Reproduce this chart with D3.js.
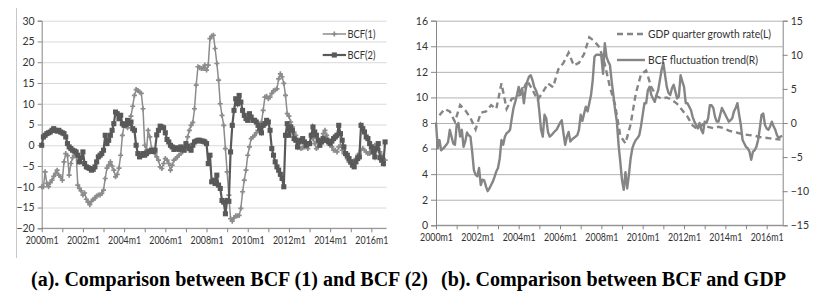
<!DOCTYPE html>
<html>
<head>
<meta charset="utf-8">
<script src="https://cdn.jsdelivr.net/npm/d3@7"></script>
<style>
    body { margin: 0; background: #fff; }
    svg text { font-family: Lato, "Noto Sans", sans-serif; fill: #333; }
    .caption { font-family: "Liberation Serif", "Times New Roman", serif; font-weight: bold; fill: #000; }
</style>
</head>
<body>
<svg id="chart" width="821" height="298"></svg>
<script>
// ---- data (monthly, 2000m1 ...) ----
const xTickLabels = ["2000m1", "2002m1", "2004m1", "2006m1", "2008m1", "2010m1", "2012m1", "2014m1", "2016m1"]

const bcf1 = [
    -10.0, -10.0, -6.4, -9.2, -10.0, -9.0, -8.4, -7.5, -6.8, -6.0,
    -7.2, -7.6, -8.4, -4.0, -2.0, -2.5, -7.2, -4.4, -3.0, -2.4,
    -1.5, -9.6, -10.4, -11.0, -12.0, -11.5, -13.0, -13.7, -14.3, -13.5,
    -13.0, -12.8, -12.2, -12.0, -12.0, -11.6, -10.8, -8.0, -5.5, -4.8,
    -4.0, -5.0, -6.0, -7.6, -7.0, -5.5, -2.4, 2.4, 4.8, 5.0,
    4.2, 5.5, 7.0, 9.4, 12.0, 13.4, 13.2, 12.8, 12.5, 8.8,
    0.0, -1.2, 3.6, 2.0, -0.8, -1.5, -2.0, -2.8, -3.6, -5.2,
    -5.6, -4.4, -3.2, -3.6, -4.4, -6.0, -4.8, -3.6, -3.2, -2.8,
    -2.4, -2.0, -1.4, -0.8, 0.0, 2.0, 3.6, 4.8, 5.5, 8.8,
    14.5, 18.9, 18.7, 18.5, 18.5, 19.3, 18.1, 19.3, 25.7, 26.3,
    26.5, 23.3, 19.7, 15.7, 10.0, 7.2, 4.8, -0.8, -6.4, -12.0,
    -17.7, -18.3, -17.5, -17.0, -17.0, -16.9, -15.2, -11.2, -8.4, -6.0,
    -2.4, -0.4, 1.6, 2.0, 2.4, 3.0, 3.6, 4.6, 5.6, 8.4,
    11.6, 11.8, 11.2, 11.6, 12.5, 13.1, 13.3, 13.6, 16.0, 17.2,
    16.5, 14.9, 12.0, 7.6, 7.0, 5.6, 4.4, 3.2, 2.4, 1.2,
    -0.4, -0.8, -0.6, -0.4, 0.0, -0.8, 0.4, 2.4, 1.6, 0.4,
    -0.8, -0.4, 0.8, 1.6, 2.8, 3.6, 2.4, 1.2, 0.0, -0.4,
    -1.2, -1.2, -1.6, -0.4, 0.0, -1.2, -2.0, -2.4, -3.2, -4.0,
    -4.4, -4.0, -3.6, -3.6, -2.4, -2.0, -1.2, -0.8, -1.2, -1.6,
    -2.0, -2.0, -1.2, -0.8, 0.0, 0.0, -0.8, -1.6, -2.4, -3.2,
    -3.6
]

const bcf2 = [
    0.0, 2.0, 2.4, 2.8, 3.0, 3.2, 3.6, 4.0, 3.6, 3.4,
    3.6, 3.2, 3.0, 2.8, 2.0, 0.4, -0.4, -0.8, -1.2, -1.4,
    -1.6, -2.4, -4.0, -3.0, -1.6, -4.4, -5.2, -5.4, -5.6, -6.0,
    -5.8, -5.2, -4.0, -2.8, -2.4, -2.0, -1.2, 2.4, 0.4, 1.2,
    2.4, 3.6, 5.2, 8.0, 7.6, 6.4, 7.2, 5.2, 4.8, 5.0,
    6.0, 5.2, 5.6, 4.0, 3.6, 0.0, -2.0, -2.8, -2.4, -2.0,
    -2.4, -2.0, -1.6, -1.4, -1.2, -1.5, -1.2, 2.5, 3.6, 4.6,
    4.4, 4.2, 3.0, 1.4, 0.8, 0.0, -0.4, -1.0, -0.6, -0.8,
    -1.0, -0.4, -0.8, -1.2, 0.4, -0.2, -0.8, -1.2, 0.0, 0.8,
    1.0, 1.2, 1.2, 1.0, 1.0, 0.8, 0.4, -4.4, -2.4, -8.8,
    -8.4, -9.2, -7.2, -9.6, -10.4, -13.3, -13.7, -16.5, -13.3, -13.5,
    -1.6, 4.8, 8.4, 11.2, 10.0, 12.0, 10.4, 8.4, 7.2, 6.4,
    6.0, 7.6, 6.8, 6.0, 6.0, 5.6, 4.8, 4.0, 3.0, 4.8,
    5.2, 6.0, 5.6, 3.6, -0.8, -2.4, -4.0, -5.2, -6.0, -7.0,
    -8.0, -10.0, 2.4, 5.2, 2.4, 4.4, 3.6, 1.6, 1.2, -0.4,
    0.8, 1.2, 1.6, 0.8, 0.0, 0.4, 0.4, 2.4, 4.4, 3.2,
    2.4, 1.2, 0.0, 0.8, 1.6, 1.2, 1.2, 0.8, 0.4, 1.0,
    1.6, 2.0, 2.4, 4.8, 2.8, 1.2, -0.4, -2.0, -2.4, -3.2,
    -4.0, -4.8, -5.2, -4.0, -3.2, -2.8, 4.8, 4.0, 3.2, 2.0,
    1.6, 0.4, -0.4, -1.6, -2.8, -0.8, 0.4, -3.0, -3.6, -4.4,
    0.8
]

// GDP quarter growth rate, one value per quarter (plotted at the 3rd month of each quarter)
const gdpQuarter = [
    8.6, 9.1, 8.9, 8.1, 9.4, 9.0, 8.4, 7.5, 8.8, 8.9,
    9.4, 9.1, 11.1, 9.1, 9.9, 10.0, 10.4, 11.3, 10.6, 9.8,
    10.4, 11.1, 10.8, 12.2, 12.7, 13.5, 12.5, 12.7, 13.4, 14.7,
    14.4, 13.9, 12.6, 10.8, 9.4, 7.0, 6.4, 7.9, 10.3, 11.8,
    12.1, 10.8, 10.1, 9.9, 10.0, 9.8, 9.5, 9.0, 8.5, 7.8,
    7.5, 7.9, 7.7, 7.6, 7.7, 7.6, 7.4, 7.3, 7.2, 7.1,
    7.05, 7.0, 6.9, 6.85, 6.8, 6.75, 6.7
]

// BCF fluctuation trend, monthly
const bcfTrend = [
    0.1, -3.7, -2.5, -4.0, -3.8, -3.5, -3.2, -2.8, -1.0, -2.0,
    -3.0, -3.2, -0.3, 0.0, -2.0, -1.0, -3.5, -2.7, -1.4, -1.8,
    -2.0, -4.2, -6.9, -7.6, -7.8, -6.6, -9.1, -8.3, -8.4, -9.3,
    -10.0, -9.6, -9.1, -8.6, -7.9, -7.1, -6.6, -5.2, -2.5, -3.2,
    -2.0, -1.5, -1.3, -1.0, 0.7, 2.2, 3.1, 4.1, 5.3, 4.1,
    5.1, 2.9, 4.8, 6.1, 6.8, 7.0, 6.3, 5.3, 4.8, 4.1,
    1.7, -1.0, -2.0, 1.2, 0.7, -1.3, -2.0, -1.8, -1.5, -1.2,
    -1.0, -0.5, 0.0, 0.4, -1.5, -3.2, -2.0, -1.3, -2.7, -2.4,
    -2.2, -2.0, -1.8, -1.0, 1.2, 0.3, 1.4, 2.4, 1.7, 2.9,
    4.1, 6.3, 9.7, 10.0, 10.0, 10.0, 9.8, 7.2, 11.7, 9.7,
    9.0, 8.5, 6.1, 4.1, 1.9, 0.2, -3.2, -5.7, -8.4, -9.8,
    -7.2, -9.6, -7.6, -5.2, -3.7, -3.0, -2.5, -2.2, -1.8, -0.5,
    1.2, 2.9, 2.9, 4.8, 5.3, 4.1, 3.6, 3.1, 4.1, 4.8,
    6.3, 7.8, 8.8, 7.0, 5.3, 4.4, 4.1, 5.1, 5.6, 4.6,
    3.6, 3.9, 7.0, 6.1, 5.3, 2.9, 2.9, 2.4, 1.9, 0.9,
    0.2, -0.3, -0.8, 0.0, -1.0, -1.5, 0.2, 0.0, 0.7, 2.6,
    2.6, 2.2, 0.9, 0.2, 0.2, 1.2, 2.2, 1.7, 1.2, 0.7,
    0.2, 0.4, 0.7, 1.7, 2.2, 2.9, 1.2, -0.3, -2.5, -3.0,
    -3.5, -3.7, -4.2, -5.4, -4.2, -4.0, -3.5, -2.5, -0.8, 1.2,
    1.4, -0.3, -0.8, -1.0, -0.5, 0.2, -0.5, -1.0, -1.8, -2.2,
    -2.0, -1.9
]

const svg = d3.select("#chart")
const axisColor = "#868686"
const fontSize = 10.5

function styleAxis(g) {
    g.selectAll("path.domain").attr("stroke", axisColor)
    g.selectAll(".tick line").attr("stroke", axisColor)
    g.selectAll("text").attr("font-size", fontSize).style("fill", "#333")
}

// x labels squeezed to the narrow width of the original font
function fitXLabels(g) {
    g.selectAll("text").filter(function () { return this.textContent !== "" })
        .attr("textLength", 33).attr("lengthAdjust", "spacingAndGlyphs")
}

// left border of figure (a)
svg.append("line")
    .attr("x1", 16.5).attr("x2", 16.5).attr("y1", 8).attr("y2", 258)
    .attr("stroke", "#c8c8c8")

// ============ panel (a) ============
const xA = d3.scaleLinear().domain([0, bcf1.length - 1]).range([41.7, 385.1])
const yA = d3.scaleLinear().domain([-20, 30]).range([228.3, 20.7])
const rightA = 386.5

svg.append("g")
    .attr("transform", "translate(41.7,0)")
    .call(d3.axisLeft(yA).tickValues(d3.range(-20, 31, 5)).tickSize(-(rightA - 41.7)).tickFormat(""))
    .call(g => g.select(".domain").remove())
    .call(g => g.selectAll(".tick line").attr("stroke", "#d9d9d9"))

svg.append("g")
    .attr("transform", "translate(41.7,0)")
    .call(d3.axisLeft(yA).tickValues(d3.range(-20, 31, 5)).tickSize(4).tickPadding(3))
    .call(styleAxis)

svg.append("g")
    .attr("transform", `translate(0,${yA(-20)})`)
    .call(d3.axisBottom(xA).tickValues(d3.range(0, bcf1.length, 12)).tickSize(4).tickPadding(4)
        .tickFormat(i => i % 24 === 0 ? xTickLabels[i / 24] : ""))
    .call(styleAxis)
    .call(fitXLabels)
    .call(g => g.select(".domain").attr("d", `M41.7,0H${rightA}`))

const lineA = d3.line().x((d, i) => xA(i)).y(d => yA(d))
const col1 = "#8c8c8c", col2 = "#595959"
const cross = d3.symbol(d3.symbolCross).size(14)
const square = d3.symbol(d3.symbolSquare).size(26)

svg.append("path").datum(bcf1)
    .attr("d", lineA).attr("fill", "none").attr("stroke", col1).attr("stroke-width", 1.5)
svg.append("g").selectAll("path").data(bcf1).join("path")
    .attr("d", cross).attr("fill", col1)
    .attr("transform", (d, i) => `translate(${xA(i)},${yA(d)})`)

svg.append("path").datum(bcf2)
    .attr("d", lineA).attr("fill", "none").attr("stroke", col2).attr("stroke-width", 2.2)
svg.append("g").selectAll("path").data(bcf2).join("path")
    .attr("d", square).attr("fill", col2)
    .attr("transform", (d, i) => `translate(${xA(i)},${yA(d)})`)

// legend (a)
const legA = [
    { name: "BCF(1)", color: col1, sym: cross, w: 1.5, y: 34 },
    { name: "BCF(2)", color: col2, sym: square, w: 2.2, y: 55 }
]
legA.forEach(l => {
    svg.append("line").attr("x1", 322.7).attr("x2", 346).attr("y1", l.y).attr("y2", l.y)
        .attr("stroke", l.color).attr("stroke-width", l.w)
    svg.append("path").attr("d", l.sym).attr("fill", l.color)
        .attr("transform", `translate(334.3,${l.y})`)
    svg.append("text").attr("x", 347.5).attr("y", l.y).attr("dy", "0.35em")
        .attr("font-size", fontSize).attr("textLength", 28).attr("lengthAdjust", "spacingAndGlyphs")
        .text(l.name)
})

// ============ panel (b) ============
const xB = d3.scaleLinear().domain([0, bcfTrend.length - 1]).range([436, 782.2])
const yBL = d3.scaleLinear().domain([0, 16]).range([225.3, 20.7])
const yBR = d3.scaleLinear().domain([-15, 15]).range([225.3, 20.7])
const rightB = 782.7

svg.append("g")
    .attr("transform", "translate(436,0)")
    .call(d3.axisLeft(yBL).tickValues(d3.range(0, 17, 2)).tickSize(-(rightB - 436)).tickFormat(""))
    .call(g => g.select(".domain").remove())
    .call(g => g.selectAll(".tick line").attr("stroke", "#b3b3b3"))

svg.append("g")
    .attr("transform", "translate(436,0)")
    .call(d3.axisLeft(yBL).tickValues(d3.range(0, 17, 2)).tickSize(5).tickPadding(3))
    .call(styleAxis)

svg.append("g")
    .attr("transform", `translate(${rightB},0)`)
    .call(d3.axisRight(yBR).tickValues(d3.range(-15, 16, 5)).tickSize(5).tickPadding(3))
    .call(styleAxis)

svg.append("g")
    .attr("transform", `translate(0,${yBL(0)})`)
    .call(d3.axisBottom(xB).tickValues(d3.range(0, bcfTrend.length, 12)).tickSize(4).tickPadding(4)
        .tickFormat(i => i % 24 === 0 ? xTickLabels[i / 24] : ""))
    .call(styleAxis)
    .call(fitXLabels)
    .call(g => g.select(".domain").attr("d", `M436,0H${rightB}`))

const colB = "#858585"
const gdpLine = d3.line().x((d, k) => xB(k * 3 + 2)).y(d => yBL(d))
const trendLine = d3.line().x((d, i) => xB(i)).y(d => yBR(d))

svg.append("path").datum(gdpQuarter)
    .attr("d", gdpLine).attr("fill", "none").attr("stroke", colB)
    .attr("stroke-width", 2.4).attr("stroke-dasharray", "6,4")
svg.append("path").datum(bcfTrend)
    .attr("d", trendLine).attr("fill", "none").attr("stroke", colB)
    .attr("stroke-width", 2.4).attr("stroke-linejoin", "round")

// legend (b)
const legB = [
    { name: "GDP quarter growth rate(L)", dash: "6,4", y: 34, len: 123 },
    { name: "BCF fluctuation trend(R)", dash: null, y: 60, len: 110 }
]
legB.forEach(l => {
    svg.append("line").attr("x1", 617).attr("x2", 645).attr("y1", l.y).attr("y2", l.y)
        .attr("stroke", colB).attr("stroke-width", 2.4).attr("stroke-dasharray", l.dash)
    svg.append("text").attr("x", 648).attr("y", l.y).attr("dy", "0.35em")
        .attr("font-size", fontSize).attr("textLength", l.len).attr("lengthAdjust", "spacingAndGlyphs")
        .text(l.name)
})

// ============ captions ============
svg.append("text").attr("class", "caption")
    .attr("x", 31).attr("y", 286).attr("font-size", 20)
    .attr("textLength", 397).attr("lengthAdjust", "spacingAndGlyphs")
    .text("(a). Comparison between BCF (1) and BCF (2)")
svg.append("text").attr("class", "caption")
    .attr("x", 441).attr("y", 286).attr("font-size", 20)
    .attr("textLength", 345).attr("lengthAdjust", "spacingAndGlyphs")
    .text("(b). Comparison between BCF and GDP")
</script>
</body>
</html>
